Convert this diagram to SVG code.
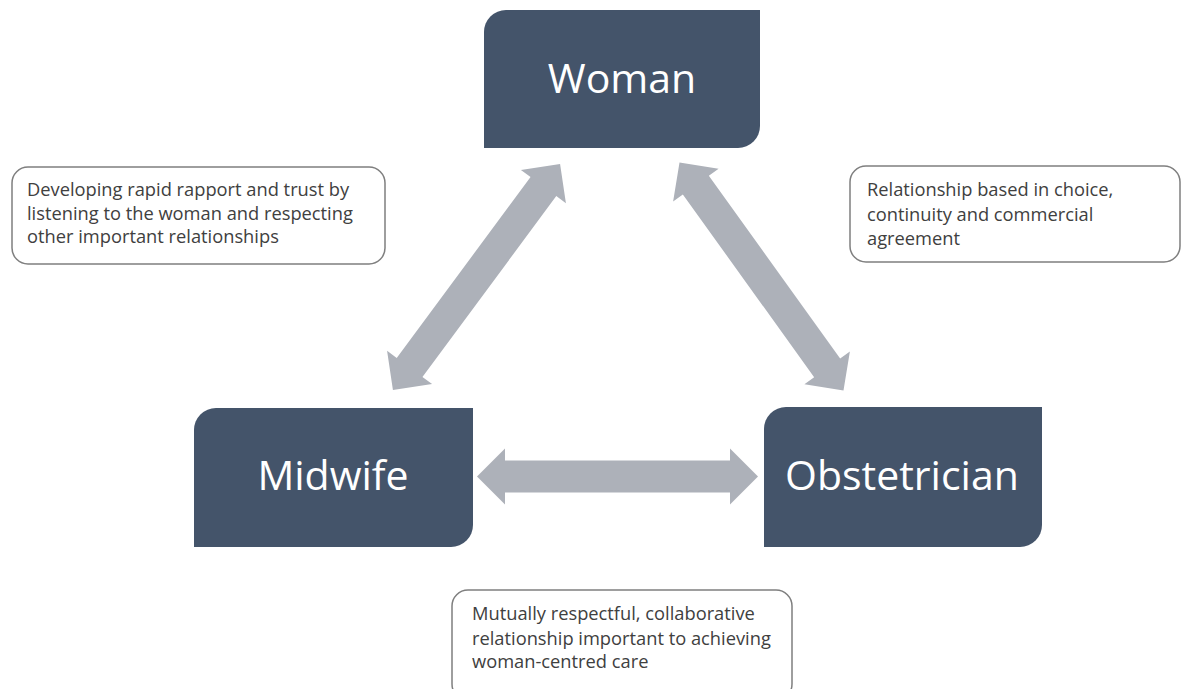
<svg xmlns="http://www.w3.org/2000/svg" width="1182" height="689" viewBox="0 0 1182 689">
  <style>
    .node { fill: #44546A; }
    .node-label { fill: #FFFFFF; font-family: "Open Sans", "Liberation Sans", sans-serif; font-size: 41px; text-anchor: middle; }
    .note { fill: #FFFFFF; stroke: #7F7F7F; stroke-width: 1.5; }
    .note-text { fill: #404040; font-family: "Open Sans", "Liberation Sans", sans-serif; font-size: 18.3px; }
    .link { fill: #ADB1B9; }
  </style>
  <defs>
    <!-- double-headed block arrow, 281 long, centred on the origin -->
    <path id="dbl-arrow" d="M -140.5 0 L -112.5 -28 L -112.5 -16 L 112.5 -16 L 112.5 -28 L 140.5 0 L 112.5 28 L 112.5 16 L -112.5 16 L -112.5 28 Z"/>
  </defs>

  <rect width="1182" height="689" fill="#FFFFFF"/>

  <!-- connectors -->
  <g id="connectors" class="link">
    <use href="#dbl-arrow" transform="translate(476.5 277) rotate(-53.5)"/>
    <use href="#dbl-arrow" transform="translate(761.5 276.5) rotate(54.3)"/>
    <use href="#dbl-arrow" transform="translate(617.5 476.5)"/>
  </g>

  <!-- nodes -->
  <g id="woman">
    <path class="node" d="M 506 10 H 760 V 126 A 22 22 0 0 1 738 148 H 484 V 32 A 22 22 0 0 1 506 10 Z"/>
    <text class="node-label" x="622" y="93">Woman</text>
  </g>
  <g id="midwife">
    <path class="node" d="M 216 408 H 473 V 525 A 22 22 0 0 1 451 547 H 194 V 430 A 22 22 0 0 1 216 408 Z"/>
    <text class="node-label" x="333" y="490">Midwife</text>
  </g>
  <g id="obstetrician">
    <path class="node" d="M 786 407 H 1042 V 525 A 22 22 0 0 1 1020 547 H 764 V 429 A 22 22 0 0 1 786 407 Z"/>
    <text class="node-label" x="902" y="490">Obstetrician</text>
  </g>

  <!-- relationship notes -->
  <g id="note-woman-midwife">
    <rect class="note" x="12" y="167" width="373" height="97" rx="16"/>
    <text class="note-text">
      <tspan x="27" y="196">Developing rapid rapport and trust by</tspan>
      <tspan x="27" y="220">listening to the woman and respecting</tspan>
      <tspan x="27" y="243">other important relationships</tspan>
    </text>
  </g>
  <g id="note-woman-obstetrician">
    <rect class="note" x="850" y="166" width="330" height="96" rx="16"/>
    <text class="note-text">
      <tspan x="867" y="196">Relationship based in choice,</tspan>
      <tspan x="867" y="221">continuity and commercial</tspan>
      <tspan x="867" y="245">agreement</tspan>
    </text>
  </g>
  <g id="note-midwife-obstetrician">
    <rect class="note" x="452" y="590" width="340" height="110" rx="16"/>
    <text class="note-text">
      <tspan x="472" y="620">Mutually respectful, collaborative</tspan>
      <tspan x="472" y="645">relationship important to achieving</tspan>
      <tspan x="472" y="668">woman-centred care</tspan>
    </text>
  </g>
</svg>
